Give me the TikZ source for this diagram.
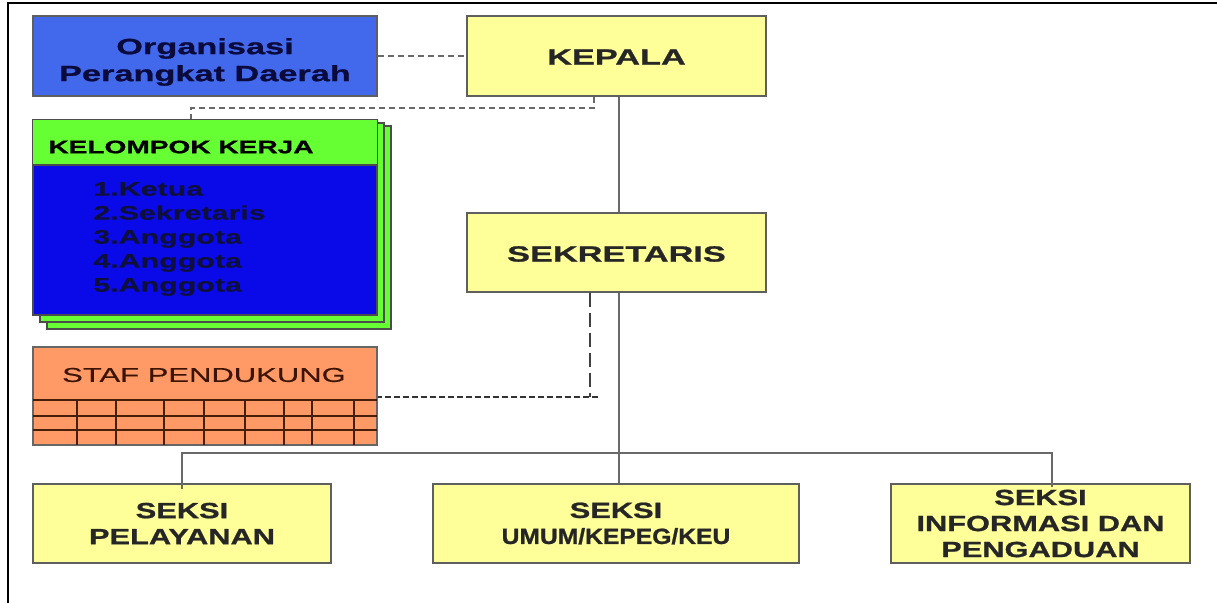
\documentclass[tikz,border=0pt]{standalone}
\usepackage{fontspec}
\setmainfont{Liberation Sans}
\newfontfamily\widefont[FakeStretch=1.55,FakeBold=0.4]{Liberation Sans}
\newfontfamily\wideheavy[FakeStretch=1.56,FakeBold=1]{Liberation Sans}
\newfontfamily\seksifont[FakeStretch=1.4,FakeBold=1]{Liberation Sans}
\newfontfamily\plainheavy[FakeStretch=1.12,FakeBold=1]{Liberation Sans}
\usetikzlibrary{calc}
\definecolor{opdblue}{RGB}{66,104,235}
\definecolor{opdtext}{RGB}{10,10,60}
\definecolor{boxyellow}{RGB}{255,255,153}
\definecolor{kkgreen}{RGB}{102,255,51}
\definecolor{kkblue}{RGB}{10,10,232}
\definecolor{kktext}{RGB}{15,15,60}
\definecolor{stafor}{RGB}{255,153,102}
\definecolor{staftxt}{RGB}{60,20,5}
\definecolor{lineg}{RGB}{105,105,105}
\definecolor{edgeg}{RGB}{95,95,95}
\definecolor{stafline}{RGB}{70,30,10}
\begin{document}
\begin{tikzpicture}[x=0.5pt,y=-0.5pt,
  box/.style={draw=edgeg, line width=0.6pt, inner sep=0pt, anchor=center},
  ybox/.style={box, fill=boxyellow, minimum width=149.5pt, minimum height=40pt},
  boxtext/.style={inner sep=0pt, font=\wideheavy\bfseries\fontsize{11}{13}\selectfont, text=black!85},
  seksi/.style={box, fill=boxyellow, minimum height=39.5pt, align=center,
    font=\seksifont\bfseries\fontsize{11}{13}\selectfont, text=black!85},
  conn/.style={draw=lineg, line width=0.7pt},
  dconn/.style={draw=lineg, line width=0.6pt, dash pattern=on 3pt off 2pt},
  thickdash/.style={draw=black!75, line width=1.4pt, dash pattern=on 7pt off 3pt},
  thindash/.style={draw=black!80, line width=0.7pt, dash pattern=on 3pt off 1.5pt},
  kkshadow/.style={draw=black!70, line width=0.6pt, fill=kkgreen},
]
\useasboundingbox (0,0) rectangle (1217,603);
% frame
\draw[line width=1pt] (8,603) -- (8,3.5) -- (1217,3.5);

% Organisasi Perangkat Daerah
\node[box, fill=opdblue, minimum width=172pt, minimum height=40pt] (opd) at (205,56) {};
\node[boxtext, align=center, text=opdtext, font=\wideheavy\bfseries\fontsize{11}{13.5}\selectfont]
  (opdlabel) at (205,62) {Organisasi\\Perangkat Daerah};

% KEPALA, SEKRETARIS
\node[ybox] (kepala) at (616.5,56) {};
\node[boxtext] (kepalalabel) at (616.5,57) {KEPALA};
\node[ybox, minimum height=39.5pt] (sek) at (616.5,252.5) {};
\node[boxtext] (seklabel) at (616.5,254) {SEKRETARIS};

% Kelompok kerja (stacked)
\draw[kkshadow] (47,126) rectangle (391,329);
\draw[kkshadow] (40,123) rectangle (384,322);
\node[box, draw=black!70, fill=kkblue, minimum width=172pt, minimum height=97.5pt]
  (kk) at (205,217.5) {};
\fill[kkgreen] (kk.north west) rectangle (377,165);
\draw[black!70, line width=0.6pt] (33,165) -- (377,165);
\draw[black!70, line width=0.6pt] (kk.north west) rectangle (kk.south east);
\node[anchor=west, inner sep=0pt, font=\wideheavy\bfseries\fontsize{9}{11}\selectfont]
  (kkhead) at (48,147) {KELOMPOK KERJA};
\node[anchor=west, inner sep=0pt, align=left, text=kktext,
  font=\widefont\bfseries\fontsize{9.8}{12}\selectfont]
  (kkbody) at (93,239) {1.Ketua\\2.Sekretaris\\3.Anggota\\4.Anggota\\5.Anggota};

% Staf pendukung
\node[box, draw=black!60, fill=stafor, minimum width=172pt, minimum height=49pt]
  (staf) at (205,396) {};
\node[inner sep=0pt, text=staftxt, font=\widefont\fontsize{10}{12}\selectfont]
  (staftext) at (204,375) {STAF PENDUKUNG};
\foreach \yy in {400,416,430}
  \draw[stafline, line width=0.6pt] (33,\yy) -- (377,\yy);
\foreach \xx in {77,116,164,204,245,284,312,354}
  \draw[stafline, line width=0.6pt] (\xx,400) -- (\xx,445);

% Seksi boxes
\node[seksi, minimum width=149pt] (pel) at (182,523.5) {SEKSI\\PELAYANAN};
\node[seksi, minimum width=183pt]
  (umum) at (616,523.5) {SEKSI\\{\plainheavy\bfseries UMUM/KEPEG/KEU}};
\node[seksi, minimum width=149.5pt] (info) at (1040.5,523.5) {SEKSI\\INFORMASI DAN\\PENGADUAN};

% connectors
\draw[dconn] (opd.east) -- (kepala.west);
\coordinate (kkj) at (594,108);
\draw[dconn] (kepala.south -| kkj) -- (kkj) -| (kk.north -| 191,0);
\coordinate (kx) at (619,0);
\draw[conn] (kepala.south -| kx) -- (sek.north -| kx);
\draw[conn] (sek.south -| kx) -- (umum.north -| kx);
\coordinate (busL) at (182,453);
\coordinate (busR) at (1052,453);
\draw[conn] ([yshift=-3pt]pel.north) -- (busL) -- (busR) -- ([yshift=-2pt]busR |- info.north);
\coordinate (sd) at (590,397);
\draw[thickdash] (sek.south -| sd) -- (sd);
\draw[thindash] ([xshift=4pt]sd) -- (staf.east |- sd);
\end{tikzpicture}
\end{document}
